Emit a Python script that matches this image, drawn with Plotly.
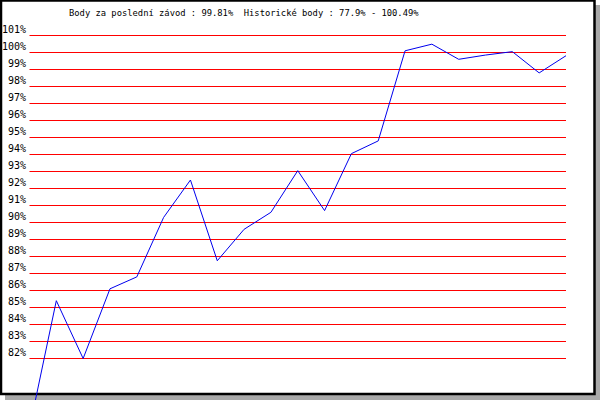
import plotly.graph_objects as go

# Data
race_index = list(range(1, 22))
points_pct = [77.9, 85.4, 82.0, 86.1, 86.8, 90.3, 92.5, 87.75, 89.6, 90.6,
              93.05, 90.7, 94.05, 94.8, 100.1, 100.49, 99.6, 99.85, 100.05, 98.8, 99.81]
grid_levels = list(range(82, 102))
tick_labels = [f"{v}%" for v in grid_levels]
title_text = "Body za poslední závod : 99.81%  Historické body : 77.9% - 100.49%"

W, H = 600, 400
px_per_x = (566 - 29.5) / 20
x0 = 1 - 29.5 / px_per_x
x1 = 1 + (W - 29.5) / px_per_x
y_top = 101 + 35.5 / 17
y_bot = 101 - (H - 35.5) / 17

fig = go.Figure()

# red horizontal grid lines (as a trace under the data line)
gx, gy = [], []
for v in grid_levels:
    gx += [race_index[0], race_index[-1], None]
    gy += [v, v, None]
fig.add_trace(go.Scatter(x=gx, y=gy, mode="lines",
                         line=dict(color="#ff0000", width=1),
                         hoverinfo="skip", showlegend=False))

fig.add_trace(go.Scatter(x=race_index, y=points_pct, mode="lines",
                         line=dict(color="#0000ee", width=1),
                         showlegend=False))

shapes = [
    # shadow
    dict(type="rect", xref="paper", yref="paper", layer="below",
         x0=5 / W, x1=1, y0=0, y1=1 - 5 / H,
         fillcolor="#a9a9a9", line=dict(width=0)),
    # frame
    dict(type="rect", xref="paper", yref="paper", layer="below",
         x0=1 / W, x1=594.5 / W, y0=1 - 394 / H, y1=1 - 0.5 / H,
         fillcolor="white", line=dict(color="black", width=2.5)),
]

annotations = []
for v, lab in zip(grid_levels, tick_labels):
    annotations.append(dict(x=race_index[0], y=v, xref="x", yref="y", text=lab,
                            showarrow=False, xanchor="right", yanchor="middle",
                            xshift=-2, yshift=6,
                            font=dict(family="DejaVu Sans Mono", size=10, color="black")))
annotations.append(dict(x=244.5 / W, y=1 - 13 / H, xref="paper", yref="paper",
                        text=title_text, showarrow=False, xanchor="center", yanchor="middle",
                        font=dict(family="DejaVu Sans Mono", size=8.8, color="black")))

fig.update_layout(
    width=W, height=H,
    margin=dict(l=0, r=0, t=0, b=0),
    paper_bgcolor="white", plot_bgcolor="rgba(0,0,0,0)",
    xaxis=dict(range=[x0, x1], visible=False, fixedrange=True),
    yaxis=dict(range=[y_bot, y_top], visible=False, fixedrange=True),
    shapes=shapes, annotations=annotations,
    showlegend=False,
)

fig.write_html("out.html", config={"staticPlot": True},
               post_script="document.body.style.margin='0';document.body.style.overflow='hidden';")
